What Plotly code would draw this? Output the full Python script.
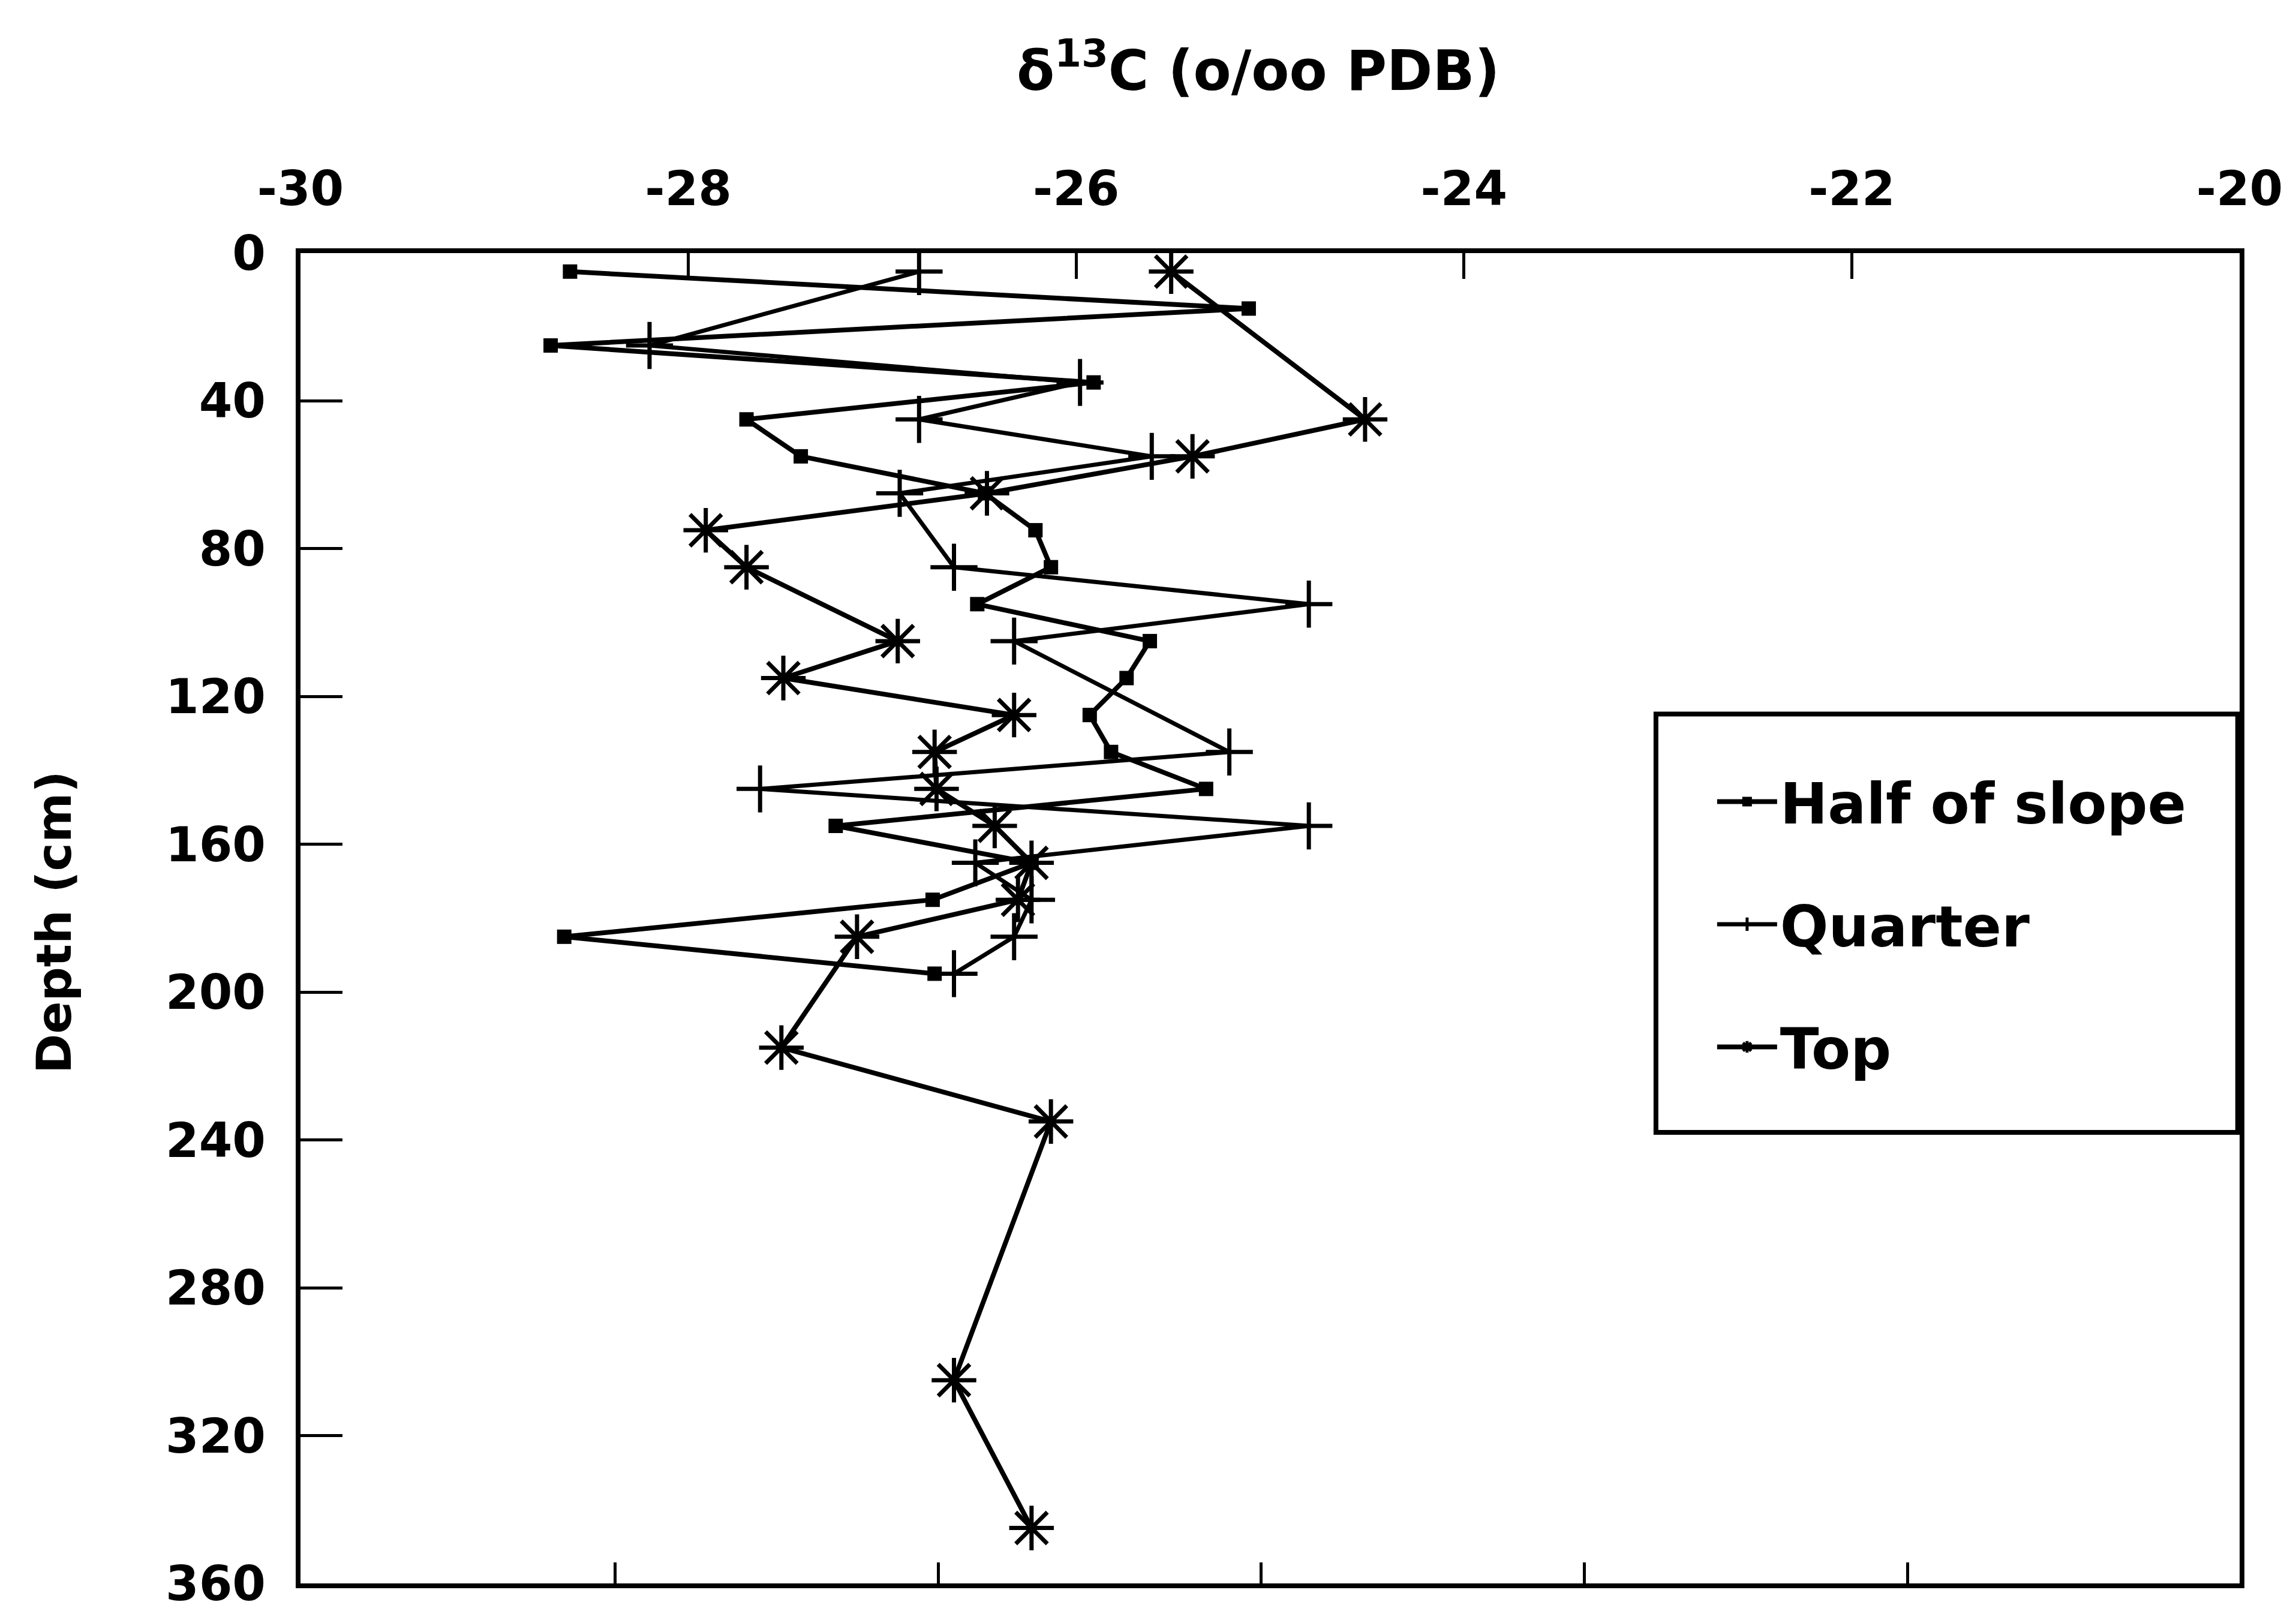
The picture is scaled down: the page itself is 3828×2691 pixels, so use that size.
import plotly.graph_objects as go

# ---------------- data ----------------
half_depth = [5, 15, 25, 35, 45, 55, 65, 75, 85, 95, 105, 115, 125, 135, 145, 155, 165, 175, 185, 195]
half_d13c = [-28.61, -25.11, -28.71, -25.91, -27.70, -27.42, -26.47, -26.21, -26.13, -26.51,
             -25.62, -25.74, -25.93, -25.82, -25.33, -27.24, -26.23, -26.74, -28.64, -26.73]

quarter_depth = [5, 25, 35, 45, 55, 65, 85, 95, 105, 135, 145, 155, 165, 175, 185, 195]
quarter_d13c = [-26.81, -28.20, -25.98, -26.81, -25.61, -26.91, -26.63, -24.80, -26.32,
                -25.21, -27.63, -24.80, -26.52, -26.23, -26.32, -26.63]

top_depth = [5, 45, 55, 65, 75, 85, 105, 115, 125, 135, 145, 155, 165, 175, 185, 215, 235, 305, 345]
top_d13c = [-25.51, -24.51, -25.40, -26.46, -27.91, -27.70, -26.92, -27.51, -26.32, -26.73,
            -26.72, -26.42, -26.23, -26.30, -27.13, -27.52, -26.13, -26.63, -26.23]

series_names = ["Half of slope", "Quarter", "Top"]

x_tick_vals = [-30, -28, -26, -24, -22, -20]
x_tick_text = ["-30", "-28", "-26", "-24", "-22", "-20"]
y_tick_vals = [0, 40, 80, 120, 160, 200, 240, 280, 320, 360]
y_tick_text = ["0", "40", "80", "120", "160", "200", "240", "280", "320", "360"]
bottom_tick_vals = [1, 2, 3, 4, 5]  # unlabeled bottom ticks (six divisions)

# ---------------- figure ----------------
W, H = 3828, 2691
ML, MR, MT, MB = 493, 102, 414, 44
FONT = "DejaVu Sans"
BLACK = "black"

fig = go.Figure()

fig.add_trace(go.Scatter(
    x=half_d13c, y=half_depth, name=series_names[0], mode="lines+markers",
    legendgroup="g1",
    line=dict(color=BLACK, width=8),
    marker=dict(symbol="square", size=24, color=BLACK),
))
fig.add_trace(go.Scatter(
    x=quarter_d13c, y=quarter_depth, name=series_names[1], mode="lines+markers",
    legendgroup="g2",
    line=dict(color=BLACK, width=7),
    marker=dict(symbol="cross-thin", size=56, color=BLACK, line=dict(color=BLACK, width=7)),
))
fig.add_trace(go.Scatter(
    x=top_d13c, y=top_depth, name=series_names[2], mode="lines+markers",
    legendgroup="g3",
    line=dict(color=BLACK, width=8),
    marker=dict(symbol="asterisk", size=62, color=BLACK, line=dict(color=BLACK, width=7)),
))
# empty trace to realise the unlabeled bottom axis
fig.add_trace(go.Scatter(x=[], y=[], xaxis="x2", yaxis="y", showlegend=False, hoverinfo="skip"))

tickfont = dict(family=FONT, size=80, color=BLACK, weight="bold")

fig.update_layout(
    width=W, height=H,
    margin=dict(l=ML, r=MR, t=MT, b=MB),
    paper_bgcolor="white", plot_bgcolor="white",
    showlegend=True,
    xaxis=dict(
        range=[-30, -20], side="top", tickmode="array",
        tickvals=x_tick_vals, ticktext=x_tick_text,
        ticks="inside", ticklen=43, tickwidth=5, tickcolor=BLACK,
        showline=True, linewidth=8, linecolor=BLACK, mirror=True,
        showgrid=False, zeroline=False, tickfont=tickfont,
        ticklabelstandoff=40, ticklabeloverflow="allow",
    ),
    xaxis2=dict(
        range=[0.027, 6.027], overlaying="x", side="bottom", anchor="y",
        tickmode="array", tickvals=bottom_tick_vals,
        ticks="inside", ticklen=35, tickwidth=5, tickcolor=BLACK,
        showticklabels=False, showline=False, showgrid=False, zeroline=False,
    ),
    yaxis=dict(
        range=[360, 0], tickmode="array",
        tickvals=y_tick_vals, ticktext=y_tick_text,
        ticks="inside", ticklen=70, tickwidth=5, tickcolor=BLACK,
        showline=True, linewidth=8, linecolor=BLACK, mirror=True,
        showgrid=False, zeroline=False, tickfont=tickfont,
        ticklabelstandoff=34, ticklabeloverflow="allow",
    ),
    legend=dict(
        x=0.729, y=0.6185, xanchor="left", yanchor="top",
        bgcolor="rgba(0,0,0,0)", borderwidth=0,
        font=dict(family=FONT, size=95, color=BLACK, weight="bold"),
        itemwidth=100, tracegroupgap=78, traceorder="grouped",
    ),
    shapes=[dict(
        type="rect", xref="paper", yref="paper",
        x0=0.699, x1=0.999, y0=0.3390, y1=0.6535,
        line=dict(color=BLACK, width=8), fillcolor="rgba(0,0,0,0)", layer="above",
    )],
    annotations=[
        dict(text="δ<sup>13</sup>C (o/oo PDB)", xref="paper", yref="paper",
             x=0.494, y=1.140, xanchor="center", yanchor="middle", showarrow=False,
             font=dict(family=FONT, size=92, color=BLACK, weight="bold")),
        dict(text="Depth (cm)", xref="paper", yref="paper",
             x=-0.127, y=0.497, xanchor="center", yanchor="middle", showarrow=False,
             textangle=-90,
             font=dict(family=FONT, size=80, color=BLACK, weight="bold")),
    ],
)

fig.write_html("out.html")
